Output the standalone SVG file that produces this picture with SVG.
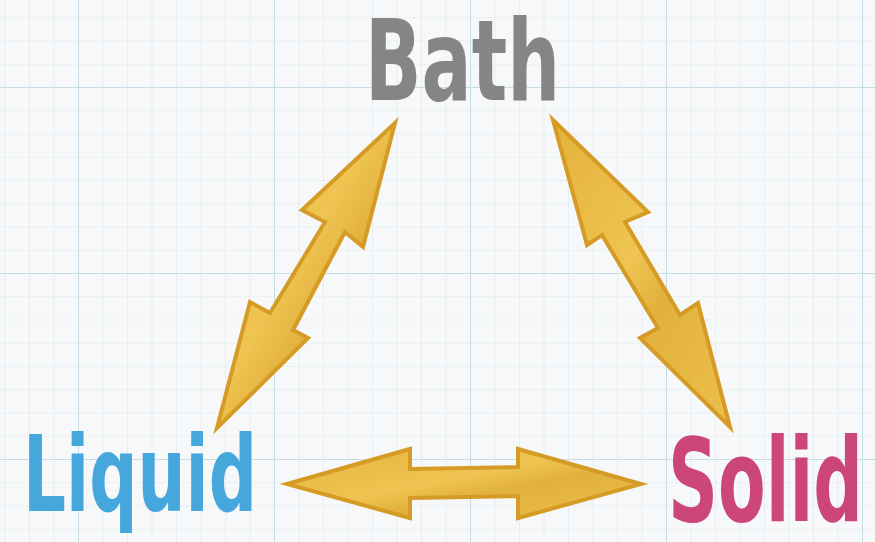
<svg xmlns="http://www.w3.org/2000/svg" width="875" height="542" viewBox="0 0 875 542">
<defs>
<pattern id="minor" x="78" y="87" width="24.5" height="23.25" patternUnits="userSpaceOnUse">
<path d="M0 0V23.25M0 0H24.5" fill="none" stroke="#dbe7ee" stroke-width="1.2"/>
</pattern>
<pattern id="major" x="78" y="87" width="196" height="186" patternUnits="userSpaceOnUse">
<path d="M0 0V186M0 0H196" fill="none" stroke="#c6dde8" stroke-width="2"/>
</pattern>
<linearGradient id="gold" x1="0" y1="0" x2="1" y2="1">
<stop offset="0" stop-color="#e3b23c"/>
<stop offset="0.45" stop-color="#efc452"/>
<stop offset="0.6" stop-color="#e2b13d"/>
<stop offset="1" stop-color="#ecbf4c"/>
</linearGradient>
<style>
.arrow{fill:url(#gold);stroke:#d69b24;stroke-width:4;stroke-linejoin:miter}
.lbl{font-family:"Liberation Sans Narrow","DejaVu Sans Condensed","Liberation Sans",sans-serif;font-weight:bold}
</style>
</defs>
<rect width="875" height="542" fill="#f7f8f9"/>
<rect width="875" height="542" fill="url(#minor)"/>
<rect width="875" height="542" fill="url(#major)"/>
<g id="connectors">
<polygon class="arrow" points="395,123 363,247 345,232 293,330 308,338 217,428 250,302 270,313 325,222 302,210"/>
<polygon class="arrow" points="553,120 648,212 625,222 680,315 698,303 730,427 640,338 658,328 602,235 587,245"/>
<polygon class="arrow" points="287,484 410,449 410,469 518,467 518,449 641,484 518,518 518,496 410,498 410,518"/>
</g>
<g id="node-bath"><text class="lbl" x="365" y="100" font-size="112" fill="#858585" textLength="195" lengthAdjust="spacingAndGlyphs">Bath</text></g>
<g id="node-liquid"><text class="lbl" x="23" y="511" font-size="106" fill="#46a7dd" textLength="234" lengthAdjust="spacingAndGlyphs">Liquid</text></g>
<g id="node-solid"><text class="lbl" x="668" y="521" font-size="116" fill="#cc4679" textLength="195" lengthAdjust="spacingAndGlyphs">Solid</text></g>
</svg>
